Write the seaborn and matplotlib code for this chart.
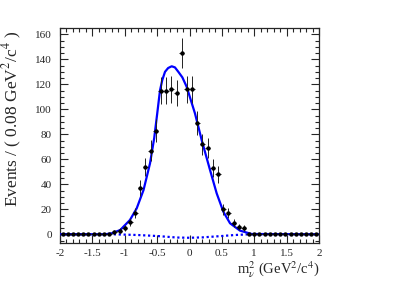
import numpy as np
import pandas as pd
import matplotlib
matplotlib.use("Agg")
import matplotlib.pyplot as plt
from matplotlib.ticker import MultipleLocator
import seaborn as sns

# binned data (bin width 0.08 GeV^2/c^4)
bin_centers = np.round(np.arange(-1.96, 2.0, 0.08), 2)
counts = [0, 0, 0, 0, 0, 0, 0, 0, 0, 0,
          2, 3, 5, 10, 17, 37, 54, 67, 83, 115,
          115, 116, 113, 145, 116, 116, 89, 72, 69, 53,
          48, 20, 17, 9, 6, 5, 0, 0, 0, 0,
          0, 0, 0, 0, 0, 0, 0, 0, 0, 0]

# total fit curve
fit_x = [-2.0, -1.3, -1.2, -1.07, -0.92, -0.815, -0.71, -0.61, -0.545, -0.5,
         -0.456, -0.42, -0.378, -0.33, -0.275, -0.225, -0.173, -0.11, -0.044,
         0.085, 0.19, 0.317, 0.42, 0.523, 0.626, 0.78, 0.96, 2.0]
fit_y = [0, 0, 0.8, 3.4, 11.4, 20.8, 35.4, 56.7, 77, 96,
         115, 123.5, 130, 133, 134.4, 133.5, 130, 125.5, 118,
         96.6, 75, 51.4, 32.7, 18, 8.8, 2.9, 0.2, 0]

# background component (dotted)
bkg_x = [-2.0, -1.2, -0.8, -0.5, -0.2, 0.0, 0.2, 0.5, 0.7, 0.9, 1.0, 2.0]
bkg_y = [0, 0, -0.6, -1.4, -2.6, -2.8, -2.5, -1.4, -0.6, -0.1, 0, 0]

xtick_labels = ["-2", "-1.5", "-1", "-0.5", "0", "0.5", "1", "1.5", "2"]

sns.set_style("ticks")
plt.rcParams["font.family"] = ["Liberation Serif", "DejaVu Serif"]
plt.rcParams["mathtext.fontset"] = "stix"

df = pd.DataFrame({"x": bin_centers, "n": counts})
df["err"] = np.sqrt(df.n)

fig = plt.figure(figsize=(3.99, 2.86), dpi=100)
ax = fig.add_axes([0.1504, 0.1503, 0.6491, 0.7517])

sns.lineplot(x=bkg_x, y=bkg_y, ax=ax, color="#0000ff", lw=1.6,
             linestyle=(0, (1, 1.2)), zorder=2)
sns.lineplot(x=fit_x, y=fit_y, ax=ax, color="#0000ff", lw=1.6, zorder=3)
ax.errorbar(df.x, df.n, yerr=df.err, xerr=0.04, fmt="none",
            ecolor="#222222", elinewidth=0.7, zorder=4)
sns.scatterplot(data=df, x="x", y="n", ax=ax, color="black", s=10,
                edgecolor="black", linewidth=0, zorder=5)

ax.set_xlim(-2, 2)
ax.set_ylim(-7, 165)
ax.xaxis.set_minor_locator(MultipleLocator(0.1))
ax.yaxis.set_major_locator(MultipleLocator(20))
ax.yaxis.set_minor_locator(MultipleLocator(5))
ax.set_xticks([float(t) for t in xtick_labels])
ax.set_xticklabels(xtick_labels)
ax.tick_params(which="both", direction="in", top=True, right=True,
               labelsize=8, width=0.8)
ax.tick_params(axis="y", pad=6)
ax.tick_params(axis="x", pad=4)
ax.tick_params(which="major", length=6)
ax.tick_params(which="minor", length=3)
for s in ax.spines.values():
    s.set_linewidth(0.9)
ax.set_xlabel("")
ax.set_ylabel("")

fig.text(320 / 399, 1 - 270 / 286, r"m$_{\nu}^{2}$ (GeV$^{2}$/c$^{4}$)",
         fontsize=10.5, ha="right", va="center")
fig.text(12.7 / 399, 1 - 30 / 286, r"Events / ( 0.08 GeV$^{2}$/c$^{4}$ )",
         fontsize=12.5, ha="center", va="top", rotation=90)

fig.savefig("out.png", dpi=100)
